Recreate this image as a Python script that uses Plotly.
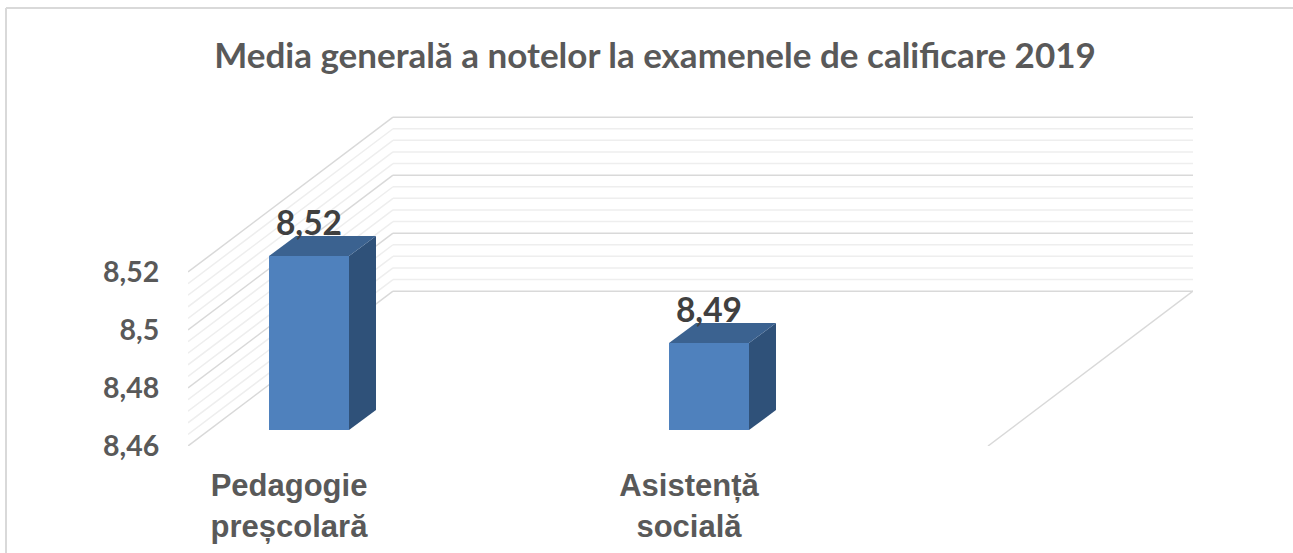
import plotly.graph_objects as go

# --- data ---
title = "Media generală a notelor la examenele de calificare 2019"
categories = ["Pedagogie<br>preșcolară", "Asistență<br>socială"]
values = [8.52, 8.49]
value_labels = ["8,52", "8,49"]
major_ticks = [8.46, 8.48, 8.50, 8.52]
tick_labels = ["8,46", "8,48", "8,5", "8,52"]
minor_ticks = [8.464, 8.468, 8.472, 8.476, 8.484, 8.488, 8.492, 8.496,
               8.504, 8.508, 8.512, 8.516]

# --- geometry / style ---
W, H = 1293, 553
Y0 = 8.46
X_MIN, X_MAX = -0.3025, 2.21       # category units
Y_MAX = 8.5738
WALL_DX, WALL_DY = 0.5125, 0.0534  # depth of the floor
BAR_W = 0.2
BAR_LIFT = 0.0055                  # bars stand this far into the floor
BAR_DX, BAR_DY = 0.0675, 0.0069    # depth of a bar
LABEL_DY = 0.0101
CAT_SHIFT = -0.05
COL_FRONT, COL_TOP, COL_SIDE = "#4f81bd", "#3b6290", "#2f5179"
COL_MAJOR, COL_MINOR = "#d9d9d9", "#eeeeee"
FONT = "Lato"

shapes = []


def wall_line(v, color, width):
    """Left wall diagonal and back wall horizontal for one axis value."""
    for x0, y0, x1, y1 in [
        (X_MIN, v, X_MIN + WALL_DX, v + WALL_DY),
        (X_MIN + WALL_DX, v + WALL_DY, X_MAX, v + WALL_DY),
    ]:
        shapes.append(dict(type="line", xref="x", yref="y", layer="below",
                           x0=x0, y0=y0, x1=x1, y1=y1,
                           line=dict(color=color, width=width)))


for v in minor_ticks:
    wall_line(v, COL_MINOR, 1.5)
for v in major_ticks:
    wall_line(v, COL_MAJOR, 1.5)
# floor right edge
shapes.append(dict(type="line", xref="x", yref="y", layer="below",
                   x0=X_MAX, y0=Y0 + WALL_DY, x1=X_MAX - WALL_DX, y1=Y0,
                   line=dict(color=COL_MAJOR, width=1.5)))
# chart frame
shapes.append(dict(type="line", xref="paper", yref="paper", x0=6 / W, x1=6 / W,
                   y0=0, y1=1 - 8 / H, line=dict(color=COL_MAJOR, width=2)))
shapes.append(dict(type="line", xref="paper", yref="paper", x0=6 / W, x1=1,
                   y0=1 - 8 / H, y1=1 - 8 / H, line=dict(color=COL_MAJOR, width=2)))

fig = go.Figure()
base = Y0 + BAR_LIFT
xs = list(range(len(values)))

# front faces
fig.add_trace(go.Bar(x=xs, y=[v - Y0 for v in values], base=base, width=BAR_W,
                     marker=dict(color=COL_FRONT, line=dict(width=0)),
                     hoverinfo="skip", showlegend=False))

# side and top faces
for x, v in zip(xs, values):
    left, right = x - BAR_W / 2, x + BAR_W / 2
    top = v + BAR_LIFT
    fig.add_trace(go.Scatter(
        x=[right, right + BAR_DX, right + BAR_DX, right, right],
        y=[base, base + BAR_DY, top + BAR_DY, top, base],
        mode="lines", fill="toself", fillcolor=COL_SIDE, line=dict(width=0),
        hoverinfo="skip", showlegend=False))
    fig.add_trace(go.Scatter(
        x=[left, right, right + BAR_DX, left + BAR_DX, left],
        y=[top, top, top + BAR_DY, top + BAR_DY, top],
        mode="lines", fill="toself", fillcolor=COL_TOP, line=dict(width=0),
        hoverinfo="skip", showlegend=False))

# data labels
fig.add_trace(go.Scatter(
    x=xs, y=[v + BAR_LIFT + LABEL_DY for v in values], text=value_labels,
    mode="text", textposition="middle center",
    textfont=dict(family=FONT, size=33.5, color="#404040", weight="bold"),
    hoverinfo="skip", showlegend=False))

fig.update_layout(
    width=W, height=H,
    margin=dict(l=0, r=0, t=0, b=0),
    paper_bgcolor="white", plot_bgcolor="white",
    showlegend=False, shapes=shapes,
    title=dict(text=title, x=655 / W, xanchor="center", y=1 - 56 / H, yanchor="middle",
               font=dict(family=FONT, size=35, color="#595959", weight="bold")),
    xaxis=dict(automargin=False, range=[X_MIN, X_MAX], domain=[188 / W, 1193 / W],
               tickmode="array", tickvals=[x + CAT_SHIFT for x in xs], ticktext=categories,
               tickangle=0, showgrid=False, zeroline=False, showline=False,
               ticks="outside", ticklen=12, tickcolor="rgba(0,0,0,0)",
               tickfont=dict(family="Liberation Sans", size=31, color="#595959", weight="bold")),
    yaxis=dict(automargin=False, range=[Y0, Y_MAX], domain=[1 - 446 / H, 1 - 116 / H],
               tickmode="array", tickvals=major_ticks, ticktext=tick_labels,
               showgrid=False, zeroline=False, showline=False,
               ticks="outside", ticklen=22, tickcolor="rgba(0,0,0,0)",
               tickfont=dict(family=FONT, size=28.5, color="#595959", weight="bold")),
)

fig.write_html("out.html", config={"displayModeBar": False},
               post_script="document.body.style.margin='0';")
